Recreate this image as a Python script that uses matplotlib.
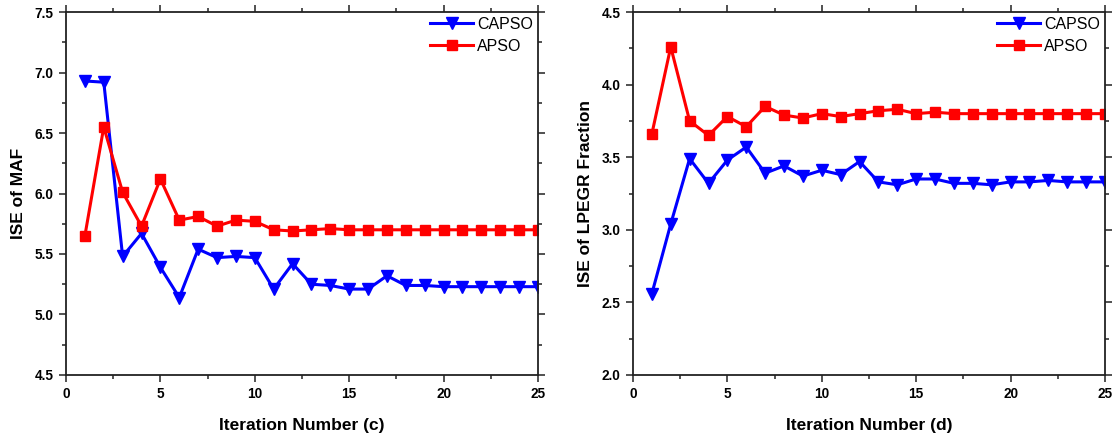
import numpy as np
import matplotlib
matplotlib.use('Agg')
from matplotlib import pyplot as plt
from matplotlib.ticker import MultipleLocator, FormatStrFormatter

plt.rcParams['font.family'] = ['Liberation Sans', 'DejaVu Sans']

iters = list(range(1, 26))

# (c) ISE of MAF
capso_c = [6.93, 6.92, 5.48, 5.67, 5.39, 5.14, 5.54, 5.47, 5.48, 5.47,
           5.21, 5.42, 5.25, 5.24, 5.21, 5.21, 5.32, 5.24, 5.24, 5.23,
           5.23, 5.23, 5.23, 5.23, 5.23]
apso_c = [5.65, 6.55, 6.01, 5.73, 6.12, 5.78, 5.81, 5.73, 5.78, 5.77,
          5.70, 5.69, 5.70, 5.71, 5.70, 5.70, 5.70, 5.70, 5.70, 5.70,
          5.70, 5.70, 5.70, 5.70, 5.70]

# (d) ISE of LPEGR Fraction
capso_d = [2.56, 3.04, 3.49, 3.32, 3.48, 3.57, 3.39, 3.44, 3.37, 3.41,
           3.38, 3.47, 3.33, 3.31, 3.35, 3.35, 3.32, 3.32, 3.31, 3.33,
           3.33, 3.34, 3.33, 3.33, 3.33]
apso_d = [3.66, 4.26, 3.75, 3.65, 3.78, 3.71, 3.85, 3.79, 3.77, 3.80,
          3.78, 3.80, 3.82, 3.83, 3.80, 3.81, 3.80, 3.80, 3.80, 3.80,
          3.80, 3.80, 3.80, 3.80, 3.80]

panels = [
    (capso_c, apso_c, 'ISE of MAF', 'Iteration Number (c)', (4.5, 7.5)),
    (capso_d, apso_d, 'ISE of LPEGR Fraction', 'Iteration Number (d)', (2.0, 4.5)),
]

fig = plt.figure(figsize=(11.15, 4.37), dpi=100)
positions = [[0.0592, 0.1419, 0.4233, 0.8306], [0.5677, 0.1419, 0.4233, 0.8306]]

for pos, (capso, apso, ylab, xlab, ylim) in zip(positions, panels):
    ax = fig.add_axes(pos)
    ax.plot(iters, capso, color='#0000ff', marker='v', markersize=8.5, lw=2.2, label='CAPSO')
    ax.plot(iters, apso, color='#ff0000', marker='s', markersize=6.8, lw=2.2, label='APSO')
    ax.set_xlim(0, 25)
    ax.set_ylim(*ylim)
    ax.xaxis.set_major_locator(MultipleLocator(5))
    ax.xaxis.set_minor_locator(MultipleLocator(2.5))
    ax.yaxis.set_major_locator(MultipleLocator(0.5))
    ax.yaxis.set_minor_locator(MultipleLocator(0.25))
    ax.yaxis.set_major_formatter(FormatStrFormatter('%.1f'))
    ax.tick_params(which='both', direction='out', top=True, right=True,
                   labeltop=False, labelright=False, width=1.1, color='#222222')
    ax.tick_params(which='major', length=5, labelsize=9.8, pad=4)
    ax.tick_params(which='minor', length=3)
    for lbl in ax.get_xticklabels() + ax.get_yticklabels():
        lbl.set_fontweight('bold')
    for s in ax.spines.values():
        s.set_linewidth(1.3)
        s.set_color('#222222')
    ax.set_xlabel(xlab, fontsize=12.5, fontweight='bold', labelpad=12)
    ax.set_ylabel(ylab, fontsize=12.5, fontweight='bold', labelpad=6)
    ax.legend(loc='upper right', frameon=False, fontsize=11.5, handlelength=2.7,
              handletextpad=0.25, borderaxespad=0.2, labelspacing=0.45,
              borderpad=0.1)

plt.savefig('out.png', dpi=100)
